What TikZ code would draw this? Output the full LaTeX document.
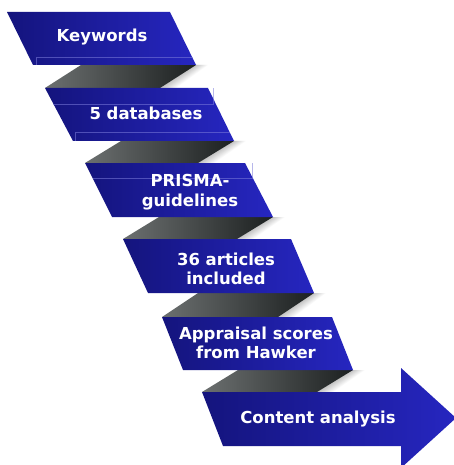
\documentclass[tikz,border=0pt]{standalone}
\usepackage{fontspec}
\setmainfont{DejaVu Sans}
\definecolor{boxL}{RGB}{20,20,125}
\definecolor{boxR}{RGB}{38,38,192}
\definecolor{ribL}{RGB}{108,112,112}
\definecolor{ribR}{RGB}{28,32,32}
\definecolor{glint}{RGB}{125,125,220}
\tikzset{
  stepbox/.style={left color=boxL,right color=boxR},
  fold/.style={left color=ribL,right color=ribR},
  fshadow/.style={fill=black,opacity=0.018},
  steplabel/.style={text=white,font=\bfseries\fontsize{16.5}{19.5}\selectfont,align=center,inner sep=0pt},
  glintline/.style={draw=glint,line width=0.5pt,opacity=0.55}
}
\begin{document}
\begin{tikzpicture}[x=1pt,y=-1pt]
\clip (0,0) rectangle (454,465);
\fill[white] (0,0) rectangle (454,465);
% soft shadows right of the folds
\foreach \d in {1,2,...,12}{
  \fill[fshadow] (196+\d,65) -- (160+\d,88+\d*0.25) -- (150,88) -- (190,65) -- cycle;
  \fill[fshadow] (234+\d,141) -- (198+\d,163+\d*0.25) -- (188,163) -- (228,141) -- cycle;
  \fill[fshadow] (273+\d,217) -- (237+\d,239+\d*0.25) -- (227,239) -- (267,217) -- cycle;
  \fill[fshadow] (314+\d,293) -- (278+\d,317+\d*0.25) -- (268,317) -- (308,293) -- cycle;
  \fill[fshadow] (353+\d,370) -- (317+\d,392+\d*0.25) -- (307,392) -- (347,370) -- cycle;
}
% folds
\shade[fold] (81,65) -- (196,65) -- (160,88) -- (45,88) -- cycle;
\shade[fold] (121,141) -- (234,141) -- (198,163) -- (85,163) -- cycle;
\shade[fold] (159,217) -- (273,217) -- (237,239) -- (123,239) -- cycle;
\shade[fold] (198,293) -- (314,293) -- (278,317) -- (162,317) -- cycle;
\shade[fold] (238,370) -- (353,370) -- (317,392) -- (202,392) -- cycle;
% boxes
\shade[stepbox] (7,12) -- (170,12) -- (196,65) -- (33,65) -- cycle;
\shade[stepbox] (45,88) -- (208,88) -- (234,141) -- (73,141) -- cycle;
\shade[stepbox] (85,163) -- (245,163) -- (273,217) -- (112,217) -- cycle;
\shade[stepbox] (123,239) -- (291,239) -- (314,293) -- (148,293) -- cycle;
\shade[stepbox] (162,317) -- (332,317) -- (353,370) -- (183,370) -- cycle;
\shade[stepbox] (202,392) -- (401,392) -- (401,368) -- (456,418) -- (401,468) -- (401,446) -- (223,446) -- cycle;
% faint glint lines
\draw[glintline] (36,65) -- (36,57) -- (193,57);
\draw[glintline] (53,104) -- (213,104) -- (213,88);
\draw[glintline] (75,141) -- (75,132) -- (230,132);
\draw[glintline] (93,178) -- (252,178) -- (252,163);
% labels
\node[steplabel] (k1) at (102,37) {Keywords};
\node[steplabel] (k2) at (146,113) {5 databases};
\node[steplabel] (k3) at (190,192) {PRISMA-\\guidelines};
\node[steplabel] (k4) at (226,269) {36 articles\\included};
\node[steplabel] (k5) at (256,343) {Appraisal scores\\from Hawker};
\node[steplabel] (k6) at (318,419) {Content analysis};
\end{tikzpicture}
\end{document}
